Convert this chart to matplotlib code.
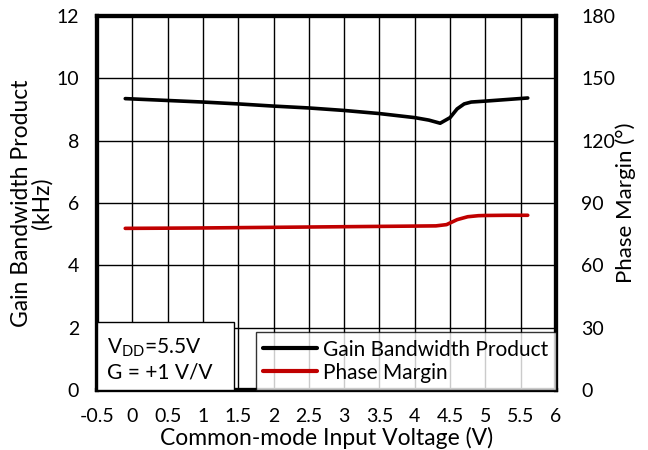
import numpy as np
import matplotlib.pyplot as plt
from matplotlib.patches import Rectangle

plt.rcParams['font.family'] = ['Lato', 'DejaVu Sans']

# Gain bandwidth product vs common-mode input voltage
vcm_gbw = [-0.1, 0.0, 0.5, 1.0, 1.5, 2.0, 2.5, 3.0, 3.5, 4.0, 4.2, 4.36, 4.5, 4.6, 4.7, 4.8, 5.0, 5.3, 5.6]
gbw_khz = [9.35, 9.34, 9.29, 9.24, 9.18, 9.11, 9.05, 8.97, 8.87, 8.74, 8.66, 8.56, 8.74, 9.02, 9.18, 9.24, 9.27, 9.32, 9.37]

# Phase margin vs common-mode input voltage
vcm_pm = [-0.1, 0.5, 1.0, 2.0, 3.0, 4.0, 4.3, 4.45, 4.6, 4.75, 4.9, 5.0, 5.3, 5.6]
pm_deg = [77.8, 77.9, 78.0, 78.3, 78.6, 78.9, 79.0, 79.6, 82.0, 83.4, 83.9, 84.0, 84.1, 84.1]

x_ticks = [-0.5, 0, 0.5, 1, 1.5, 2, 2.5, 3, 3.5, 4, 4.5, 5, 5.5, 6]
x_labels = ['-0.5', '0', '0.5', '1', '1.5', '2', '2.5', '3', '3.5', '4', '4.5', '5', '5.5', '6']

fig = plt.figure(figsize=(6.48, 4.5), dpi=100)
ax = fig.add_axes([0.1497, 0.1333, 0.7083, 0.8311])
ax2 = ax.twinx()

ax.plot(vcm_gbw, gbw_khz, color='black', lw=2.6, solid_capstyle='round',
        label='Gain Bandwidth Product', zorder=3)
ax2.plot(vcm_pm, pm_deg, color='#c00000', lw=2.6, solid_capstyle='round',
         label='Phase Margin', zorder=3)

ax.set_xlim(-0.5, 6)
ax.set_ylim(0, 12)
ax2.set_ylim(0, 180)
ax.set_xticks(x_ticks)
ax.set_xticklabels(x_labels)
ax.set_yticks(np.arange(0, 13, 2))
ax2.set_yticks(np.arange(0, 181, 30))

ax.grid(True, color='black', lw=1.0)
ax.set_axisbelow(True)
for a in (ax, ax2):
    for s in a.spines.values():
        s.set_linewidth(3)
    a.tick_params(length=0, labelsize=14)
ax.tick_params(axis='y', pad=13)
ax.tick_params(axis='x', pad=13)
ax2.tick_params(axis='y', pad=18)

ax.set_xlabel('Common-mode Input Voltage (V)', fontsize=16.5, labelpad=1)
ax.set_ylabel('Gain Bandwidth Product\n(kHz)', fontsize=16.5, labelpad=3, linespacing=0.9)
ax2.set_ylabel('Phase Margin (°)', fontsize=16, labelpad=0)

# legend box in the lower right corner
h1, l1 = ax.get_legend_handles_labels()
h2, l2 = ax2.get_legend_handles_labels()
leg = ax2.legend(h1 + h2, l1 + l2, loc='lower right', bbox_to_anchor=(1.0, 0.0),
                 fontsize=15, frameon=True, fancybox=False, borderaxespad=0,
                 handlelength=2.6, handletextpad=0.3, labelspacing=0.15,
                 borderpad=0.35)
leg.get_frame().set_edgecolor('black')
leg.get_frame().set_linewidth(1.0)
for ln in leg.get_lines():
    ln.set_linewidth(3)

# test conditions box in the lower left corner
ax2.add_patch(Rectangle((0, 0), 0.298, 0.182, transform=ax.transAxes,
                        fc='white', ec='black', lw=1.0, zorder=5))
ax2.text(0.022, 0.02, 'V$_{\\mathregular{DD}}$=5.5V\nG = +1 V/V', transform=ax.transAxes,
         fontsize=15, va='bottom', ha='left', linespacing=1.2, zorder=6)

fig.savefig('out.png', dpi=100)
